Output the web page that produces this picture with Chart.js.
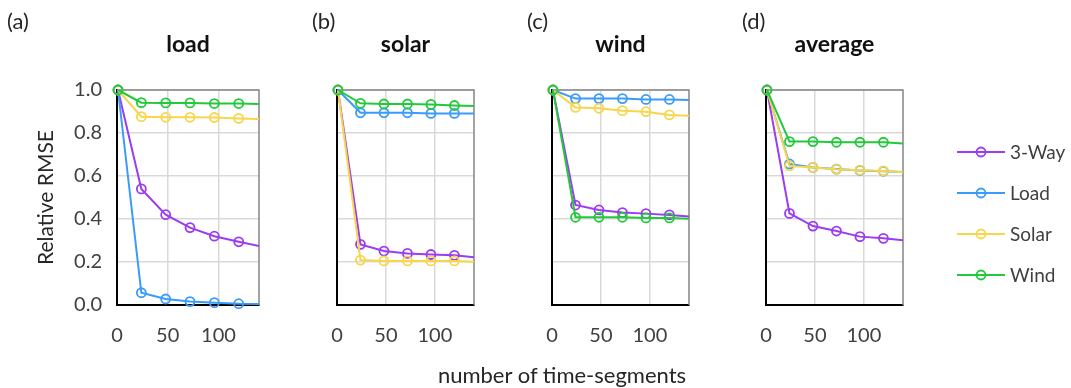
<!DOCTYPE html>
<html>
<head>
<meta charset="utf-8">
<script src="https://cdn.jsdelivr.net/npm/chart.js@4.4.0/dist/chart.umd.min.js"></script>
<style>
  body { margin: 0; background: #fff; }
  #wrap { position: relative; width: 1071px; height: 388px; overflow: hidden; font-family: Lato, "Open Sans", sans-serif; color: #262626; }
  canvas.panel { position: absolute; left: 0; top: 0; }
  .letter { position: absolute; top: 8px; font-size: 22px; line-height: 26px; }
  #xTitle { position: absolute; left: 312px; width: 500px; top: 362px; text-align: center; font-size: 22px; line-height: 26px; }
  #legend { position: absolute; left: 956px; top: 131px; }
  .item { display: flex; align-items: center; height: 41px; font-size: 19px; color: #404040; }
  .item canvas { margin-right: 4px; }
</style>
</head>
<body>
<div id="wrap">
  <canvas class="panel" id="c0" width="1071" height="388"></canvas>
  <canvas class="panel" id="c1" width="1071" height="388"></canvas>
  <canvas class="panel" id="c2" width="1071" height="388"></canvas>
  <canvas class="panel" id="c3" width="1071" height="388"></canvas>
  <div id="letters"></div>
  <div id="xTitle">number of time-segments</div>
  <div id="legend"></div>
</div>
<script>
// x positions (number of time-segments); last one lies past the axis end
const segments = [1, 24, 48, 72, 96, 120, 144];
const seriesNames = ['3-Way', 'Load', 'Solar', 'Wind'];
const seriesColors = ['#9B3CF2', '#3A9BFA', '#F7D64A', '#22C93A'];
const panelTitles = ['load', 'solar', 'wind', 'average'];
const panelLetters = ['(a)', '(b)', '(c)', '(d)'];

// (a) load
const load3Way  = [1.0, 0.54, 0.42, 0.36, 0.32, 0.294, 0.27];
const loadLoad  = [1.0, 0.057, 0.028, 0.016, 0.011, 0.006, 0.005];
const loadSolar = [1.0, 0.876, 0.873, 0.873, 0.872, 0.868, 0.865];
const loadWind  = [1.0, 0.941, 0.94, 0.94, 0.937, 0.937, 0.935];
// (b) solar
const solar3Way  = [1.0, 0.282, 0.251, 0.24, 0.235, 0.231, 0.22];
const solarLoad  = [1.0, 0.894, 0.894, 0.894, 0.891, 0.891, 0.89];
const solarSolar = [1.0, 0.209, 0.205, 0.205, 0.205, 0.205, 0.2];
const solarWind  = [1.0, 0.938, 0.935, 0.935, 0.933, 0.928, 0.925];
// (c) wind
const wind3Way  = [1.0, 0.465, 0.442, 0.43, 0.425, 0.419, 0.41];
const windLoad  = [1.0, 0.96, 0.96, 0.96, 0.956, 0.956, 0.953];
const windSolar = [1.0, 0.919, 0.915, 0.904, 0.899, 0.884, 0.879];
const windWind  = [1.0, 0.408, 0.408, 0.408, 0.405, 0.405, 0.401];
// (d) average
const avg3Way  = [1.0, 0.426, 0.367, 0.344, 0.318, 0.31, 0.3];
const avgLoad  = [1.0, 0.656, 0.64, 0.632, 0.626, 0.622, 0.618];
const avgSolar = [1.0, 0.647, 0.64, 0.631, 0.627, 0.623, 0.617];
const avgWind  = [1.0, 0.76, 0.76, 0.757, 0.757, 0.757, 0.75];

const panelSeries = [
    [load3Way, loadLoad, loadSolar, loadWind],
    [solar3Way, solarLoad, solarSolar, solarWind],
    [wind3Way, windLoad, windSolar, windWind],
    [avg3Way, avgLoad, avgSolar, avgWind]
];

// Layout
const W = 1071, H = 388;
const PLOT_LEFT = [117, 337, 552, 766];
const PLOT_RIGHT = [259, 474, 689, 903];
const PLOT_BOTTOM = 305;
const X_AXIS_H = 45;
const Y_AXIS_W = 87;
const X_MAX = 140;
const FONT = 'Lato, "Open Sans", sans-serif';
const TICK_COLOR = '#404040';
const GRID_COLOR = '#D9D9D9';

// top + right edges of the plot box in gray
const frame = {
    id: 'frame',
    beforeDatasetsDraw(chart) {
        const { ctx, chartArea: a } = chart;
        ctx.save();
        ctx.strokeStyle = '#858585';
        ctx.lineWidth = 1.5;
        ctx.beginPath();
        ctx.moveTo(a.left, a.top);
        ctx.lineTo(a.right, a.top);
        ctx.lineTo(a.right, a.bottom);
        ctx.stroke();
        ctx.restore();
    }
};

panelTitles.forEach((title, i) => {
    const first = i === 0;
    const yW = first ? Y_AXIS_W : 0;

    new Chart(document.getElementById('c' + i), {
        type: 'line',
        data: {
            datasets: seriesNames.map((name, s) => ({
                label: name,
                data: segments.map((x, k) => ({ x, y: panelSeries[i][s][k] })),
                borderColor: seriesColors[s],
                backgroundColor: 'rgba(0,0,0,0)',
                pointBackgroundColor: 'rgba(0,0,0,0)',
                pointBorderColor: seriesColors[s],
                borderWidth: 2,
                pointBorderWidth: 1.8,
                pointRadius: (ctx) => segments[ctx.dataIndex] > X_MAX ? 0 : 4.5,
                tension: 0,
                order: 3 - s,
                clip: { left: 12, top: 12, right: 0, bottom: 12 }
            }))
        },
        options: {
            responsive: false,
            animation: false,
            events: [],
            layout: {
                padding: {
                    left: PLOT_LEFT[i] - yW,
                    right: W - PLOT_RIGHT[i],
                    top: 0,
                    bottom: H - PLOT_BOTTOM - X_AXIS_H
                }
            },
            plugins: {
                legend: { display: false },
                tooltip: { enabled: false },
                title: {
                    display: true,
                    text: title,
                    fullSize: false,
                    color: '#111',
                    font: { family: FONT, size: 23, weight: 'bold', lineHeight: 1 },
                    padding: { top: 33, bottom: 34 }
                }
            },
            scales: {
                x: {
                    type: 'linear',
                    min: 0,
                    max: X_MAX,
                    ticks: {
                        stepSize: 50,
                        includeBounds: false,
                        padding: 19,
                        maxRotation: 0,
                        color: TICK_COLOR,
                        font: { family: FONT, size: 20 }
                    },
                    grid: { color: GRID_COLOR, lineWidth: 1.5, drawTicks: false },
                    border: { color: '#000', width: 2 },
                    afterFit: (s) => { s.height = X_AXIS_H; }
                },
                y: {
                    min: 0,
                    max: 1,
                    ticks: {
                        display: first,
                        stepSize: 0.2,
                        padding: 15,
                        color: TICK_COLOR,
                        font: { family: FONT, size: 20 },
                        callback: (v) => v.toFixed(1)
                    },
                    title: {
                        display: first,
                        text: 'Relative RMSE',
                        color: '#262626',
                        font: { family: FONT, size: 21 },
                        padding: { top: 4, bottom: 0 }
                    },
                    grid: { color: GRID_COLOR, lineWidth: 1.5, drawTicks: false },
                    border: { color: '#000', width: 2 },
                    afterFit: (s) => { s.width = yW; }
                }
            }
        },
        plugins: [frame]
    });
});

// panel letters
const lettersEl = document.getElementById('letters');
const LETTER_X = [7, 312, 527, 742];
panelLetters.forEach((txt, i) => {
    const d = document.createElement('div');
    d.className = 'letter';
    d.style.left = LETTER_X[i] + 'px';
    d.textContent = txt;
    lettersEl.appendChild(d);
});

// legend: line with hollow circle marker
const legendEl = document.getElementById('legend');
seriesNames.forEach((name, s) => {
    const item = document.createElement('div');
    item.className = 'item';
    const c = document.createElement('canvas');
    c.width = 50; c.height = 14;
    const g = c.getContext('2d');
    g.strokeStyle = seriesColors[s];
    g.lineWidth = 2;
    g.beginPath(); g.moveTo(1, 7); g.lineTo(49, 7); g.stroke();
    g.lineWidth = 1.8;
    g.beginPath(); g.arc(25, 7, 4.5, 0, Math.PI * 2); g.stroke();
    const label = document.createElement('span');
    label.textContent = name;
    item.appendChild(c);
    item.appendChild(label);
    legendEl.appendChild(item);
});
</script>
</body>
</html>
